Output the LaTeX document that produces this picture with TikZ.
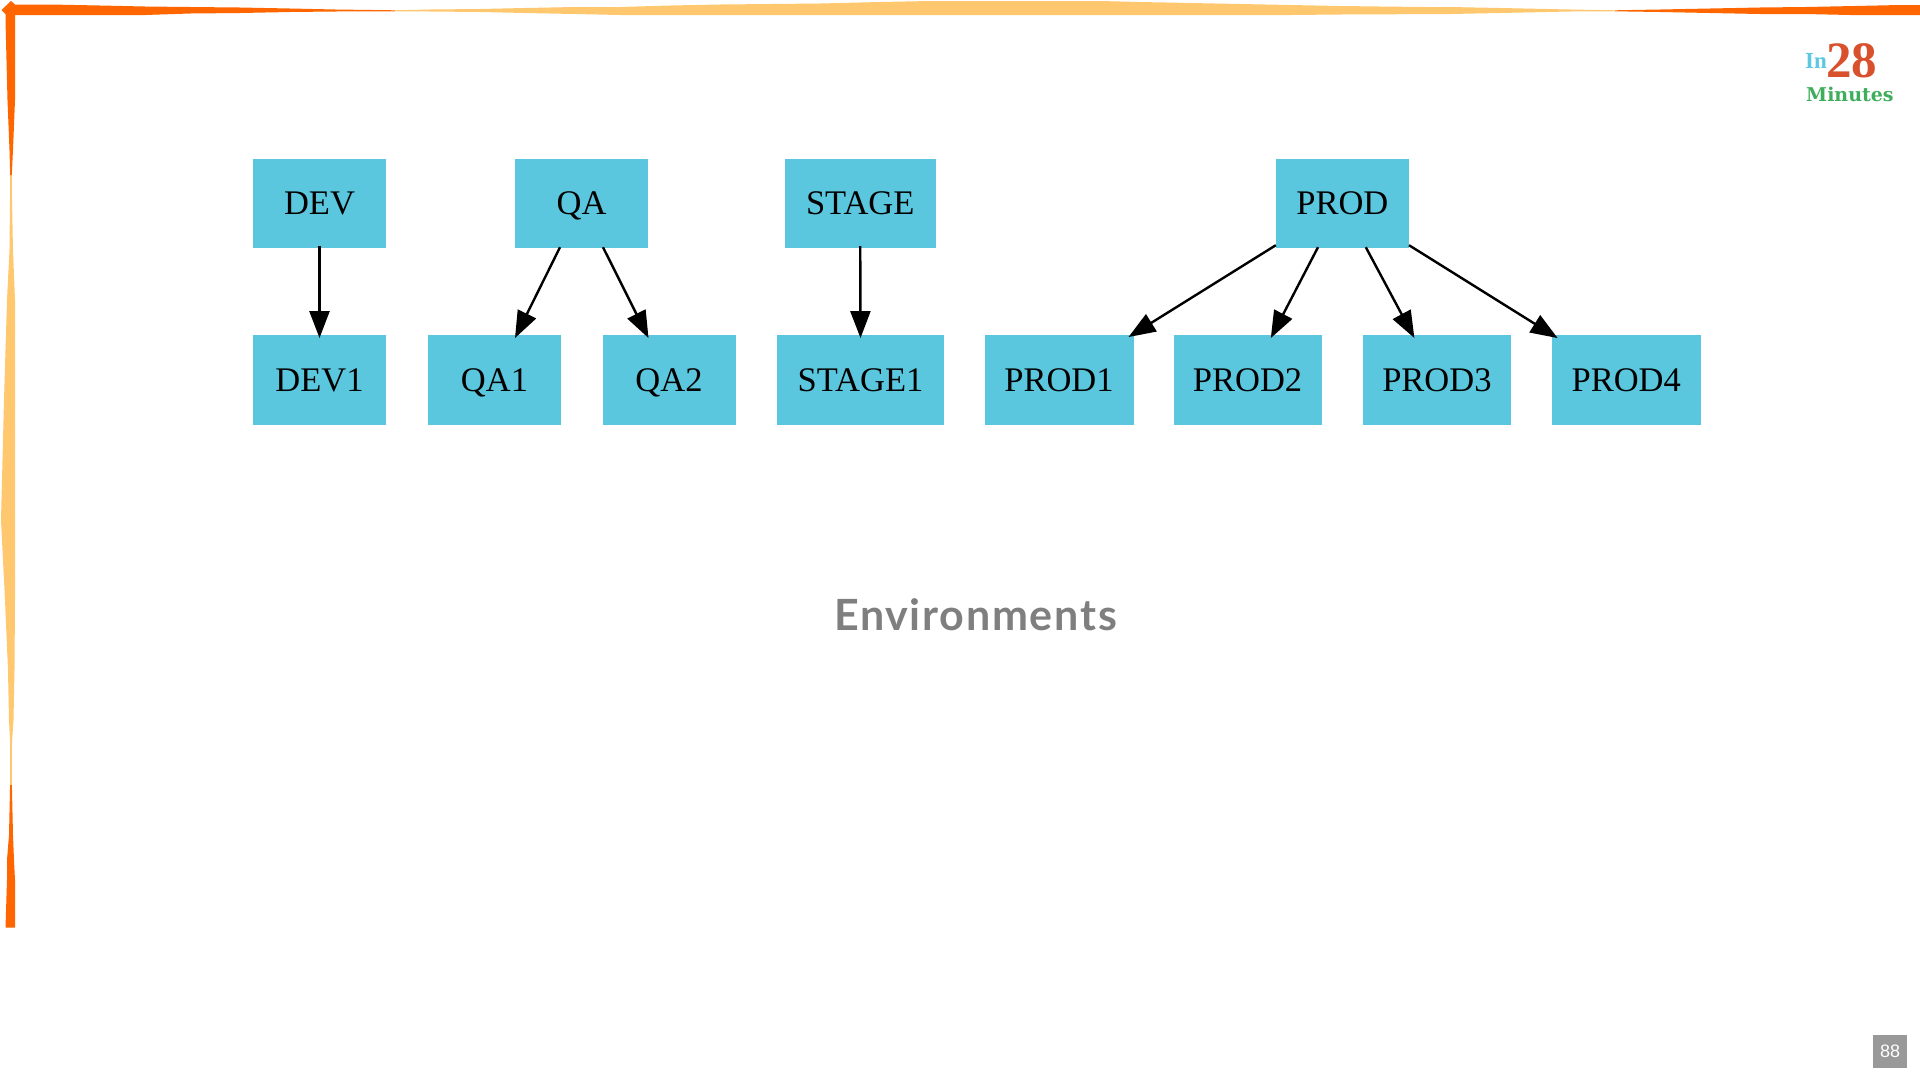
\documentclass[tikz,border=0pt]{standalone}
\usepackage{fontspec}
\setmainfont{Liberation Serif}
\newfontfamily\titlefont[LetterSpace=4]{Lato}
\newfontfamily\logoserif{DejaVu Serif}
\newfontfamily\pagefont{Liberation Sans}
\usetikzlibrary{arrows.meta}
\definecolor{boxblue}{HTML}{5BC7DF}
\definecolor{frameorange}{HTML}{FF6600}
\definecolor{framelight}{HTML}{FFC86E}
\definecolor{titlegray}{HTML}{7F7F7F}
\definecolor{pagegray}{HTML}{999999}
\definecolor{logoblue}{HTML}{5CC8E2}
\definecolor{logored}{HTML}{D8502C}
\definecolor{logogreen}{HTML}{3FAE5C}
\tikzset{
  envbox/.style={fill=boxblue,draw=none,inner sep=0pt,minimum height=89.5pt,text height=22.5pt,text depth=0pt,
    font=\fontsize{34.5}{40}\selectfont,text=black},
  conn/.style={draw=black,line width=2.4pt,-{Triangle[length=27pt,width=20pt]},shorten >=0pt,shorten <=0pt},
}
\begin{document}
\begin{tikzpicture}[x=1pt,y=-1pt]
\useasboundingbox (0,0) rectangle (1920,1080);
\fill[white] (0,0) rectangle (1920,1080);
% frame: light parts
\fill[framelight] (395,10.3) -- (430,9.5) -- (480,9) -- (525,8) -- (575,7) -- (620,7) -- (670,5.5) -- (720,4.5) -- (770,4) -- (820,3.5) -- (880,2) -- (930,1) -- (1100,1) -- (1140,2) -- (1190,3) -- (1240,4) -- (1290,5) -- (1340,6) -- (1380,6.5) -- (1425,7) -- (1450,7) -- (1500,8) -- (1570,9.5) -- (1615,10.3) -- (1615,11.3) -- (1570,11.5) -- (1500,13) -- (1450,14) -- (1340,14.5) -- (1290,15) -- (620,15) -- (575,14) -- (525,13) -- (480,12) -- (430,11.5) -- (395,11.3) -- cycle;
\fill[framelight] (10.2,170) -- (10,200) -- (9.5,250) -- (7,300) -- (4,400) -- (1,520) -- (3,560) -- (5,600) -- (8,670) -- (9,720) -- (10.2,745) -- (10.2,790) -- (11.8,790) -- (11.8,745) -- (13.5,720) -- (14.5,670) -- (15,600) -- (15,300) -- (13,250) -- (12,200) -- (11.8,170) -- cycle;
% frame: orange parts
\fill[frameorange] (1.5,10) -- (11,1) -- (15,4.5) -- (50,4.5) -- (100,5.5) -- (145,6.5) -- (190,7) -- (240,7.5) -- (290,8.5) -- (335,9.5) -- (395,10.3) -- (395,11.3) -- (335,11.5) -- (290,12) -- (240,13) -- (190,13.5) -- (145,15) -- (15,15) -- (15,100) -- (13,150) -- (11.8,175) -- (10.2,175) -- (9.5,150) -- (7.5,100) -- (5.5,20) -- (5.5,14) -- cycle;
\fill[frameorange] (1615,10.3) -- (1660,9.5) -- (1710,8.5) -- (1760,7.5) -- (1805,7) -- (1855,6) -- (1900,5) -- (1920,5) -- (1920,15) -- (1850,15) -- (1805,14) -- (1760,14) -- (1710,13) -- (1660,12) -- (1615,11.3) -- cycle;
\fill[frameorange] (10.2,785) -- (11.8,785) -- (12,790) -- (13,835) -- (14,860) -- (15,880) -- (15,927.5) -- (5.5,927.5) -- (7,880) -- (7,860) -- (9,835) -- (10,790) -- cycle;
% nodes
\node[envbox,minimum width=133pt] (DEV) at (319.5,203.25) {DEV};
\node[envbox,minimum width=133pt] (QA) at (581.5,203.25) {QA};
\node[envbox,minimum width=150.5pt] (STAGE) at (860.25,203.25) {STAGE};
\node[envbox,minimum width=133.1pt] (PROD) at (1342.35,203.25) {PROD};
\node[envbox,minimum width=133pt] (DEV1) at (319.5,380) {DEV1};
\node[envbox,minimum width=133pt] (QA1) at (494.5,380) {QA1};
\node[envbox,minimum width=133pt] (QA2) at (669,380) {QA2};
\node[envbox,minimum width=167pt] (STAGE1) at (860.5,380) {STAGE1};
\node[envbox,minimum width=149pt] (PROD1) at (1059,380) {PROD1};
\node[envbox,minimum width=148.2pt] (PROD2) at (1247.6,380) {PROD2};
\node[envbox,minimum width=147.8pt] (PROD3) at (1436.9,380) {PROD3};
\node[envbox,minimum width=149.2pt] (PROD4) at (1626.2,380) {PROD4};
% connectors
\draw[conn] ([yshift=2pt]DEV.south) -- ([yshift=-3pt]DEV1.north);
\draw[conn] ([xshift=-21.5pt,yshift=1pt]QA.south) -- ([xshift=20.5pt,yshift=-3pt]QA1.north);
\draw[conn] ([xshift=21.5pt,yshift=1pt]QA.south) -- ([xshift=-20.5pt,yshift=-3pt]QA2.north);
\draw[conn] ([yshift=2pt]STAGE.south) -- ([yshift=-3pt]STAGE1.north);
\draw[conn] ([xshift=-66.55pt,yshift=3pt]PROD.south) -- ([xshift=69.5pt,yshift=-2pt]PROD1.north);
\draw[conn] ([xshift=-24.35pt,yshift=1pt]PROD.south) -- ([xshift=23.2pt,yshift=-3pt]PROD2.north);
\draw[conn] ([xshift=23.45pt,yshift=1pt]PROD.south) -- ([xshift=-22.5pt,yshift=-3pt]PROD3.north);
\draw[conn] ([xshift=66.65pt,yshift=3pt]PROD.south) -- ([xshift=-68.6pt,yshift=-3pt]PROD4.north);
% title
\node[anchor=base,inner sep=0pt,text=titlegray,font=\titlefont\bfseries\fontsize{43}{50}\selectfont] (title) at (975.5,630.7) {Environments};
% logo
\node[anchor=base west,inner sep=0pt,text=logoblue,font=\bfseries\fontsize{23}{28}\selectfont] (logoin) at (1805,68) {In};
\node[anchor=base west,inner sep=0pt,text=logored,font=\bfseries\fontsize{51}{56}\selectfont] (logo28) at (1826,77) {28};
\node[anchor=base west,inner sep=0pt,text=logogreen,font=\logoserif\bfseries\fontsize{19}{24}\selectfont] (logomin) at (1806,101) {Minutes};
% page number
\node[fill=pagegray,minimum width=34pt,minimum height=33pt,inner sep=0pt,text=white,font=\pagefont\fontsize{18}{20}\selectfont] (page) at (1890,1051.5) {88};
\end{tikzpicture}
\end{document}
